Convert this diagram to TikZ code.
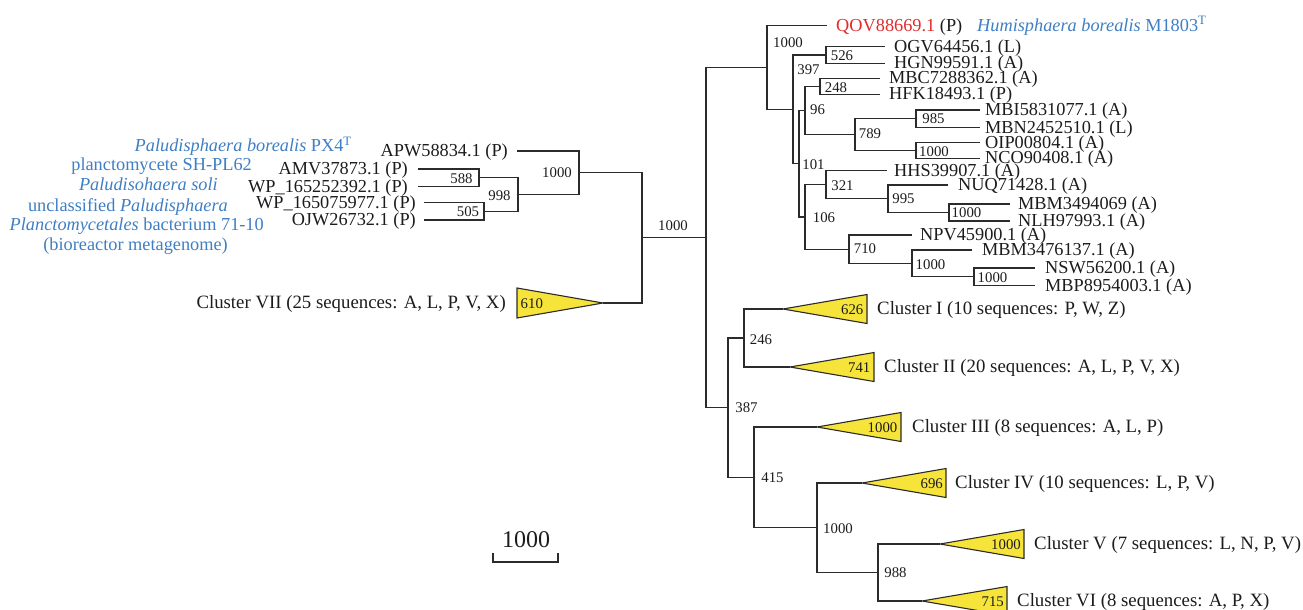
\documentclass[tikz,border=0pt]{standalone}
\usepackage{fontspec}
\setmainfont{Liberation Serif}
\definecolor{linec}{HTML}{2B2B2B}
\definecolor{textc}{HTML}{1C1C1C}
\definecolor{tyel}{HTML}{F7E43A}
\definecolor{sblue}{HTML}{3F7EC3}
\definecolor{sred}{HTML}{E32B2B}
\begin{document}
\begin{tikzpicture}[x=1pt,y=-1pt,
  br/.style={draw=linec,line width=1.3pt},
  bs/.style={font=\fontsize{14.8}{15}\selectfont,inner sep=0pt,text=textc},
  lf/.style={font=\fontsize{18.3}{20}\selectfont,anchor=base west,inner sep=0pt,yshift=-5.5pt,text=textc},
  lfr/.style={lf,anchor=base east},
  cl/.style={lf,font=\fontsize{18.8}{20}\selectfont},
  clr/.style={cl,anchor=base east},
  blu/.style={font=\fontsize{18.3}{20}\selectfont,anchor=base east,inner sep=0pt,text=sblue},
  tri/.style={draw=linec,line width=1.1pt,fill=tyel,line join=miter}]
\useasboundingbox (0,0) rectangle (1303,610);
% ---------- internal nodes (right, top) ----------
\coordinate (rootR) at (706,237.6);
\coordinate (rootL) at (642,237.6);
\coordinate (nA) at (767,67.5);
\coordinate (nB) at (793,109.4);
\coordinate (n526) at (826,55);
\coordinate (n101) at (799,163.7);
\coordinate (n96) at (805,110.5);
\coordinate (n248) at (820,86.3);
\coordinate (n789) at (855,134.7);
\coordinate (n985) at (916,118.8);
\coordinate (nOI) at (916,150.5);
\coordinate (n106) at (805,217);
\coordinate (n321) at (826,184.7);
\coordinate (n995) at (888,198.7);
\coordinate (nMN) at (949,212.5);
\coordinate (n710) at (849,249.2);
\coordinate (nMM) at (912,263.4);
\coordinate (nNM) at (974,276.8);
% leaf ends
\coordinate (lQOV) at (827,25.7);
\coordinate (lOGV) at (885,46.7);
\coordinate (lHGN) at (885,63.3);
\coordinate (lMBC) at (880,78.3);
\coordinate (lHFK) at (880,94.3);
\coordinate (lMBI) at (980,110);
\coordinate (lMBN) at (980,127.7);
\coordinate (lOIP) at (980,142.7);
\coordinate (lNCO) at (980,158.3);
\coordinate (lHHS) at (887,170.7);
\coordinate (lNUQ) at (948,185);
\coordinate (lMBMa) at (1010,204);
\coordinate (lNLH) at (1010,221);
\coordinate (lNPV) at (912,235);
\coordinate (lMBMb) at (972,250);
\coordinate (lNSW) at (1035,268);
\coordinate (lMBP) at (1035,285.7);
% ---------- right, bottom ----------
\coordinate (n387) at (728,407.7);
\coordinate (n246) at (744,338);
\coordinate (n415) at (754,477.4);
\coordinate (nE) at (817,527.7);
\coordinate (n988) at (878,572.5);
\coordinate (tI) at (783,309);
\coordinate (tII) at (790,367);
\coordinate (tIII) at (817,427);
\coordinate (tIV) at (862,483);
\coordinate (tV) at (940,544);
\coordinate (tVI) at (922,601);
% ---------- left ----------
\coordinate (nL) at (579,172.8);
\coordinate (n998) at (518,194.6);
\coordinate (n588) at (479,177.8);
\coordinate (n505) at (484,211.4);
\coordinate (lAPW) at (517,151);
\coordinate (lAMV) at (418,169);
\coordinate (lWP1) at (418,186.7);
\coordinate (lWP2) at (424,202.7);
\coordinate (lOJW) at (424,220);
\coordinate (tVII) at (603,303);
% ---------- branches ----------
\draw[br] (rootL) -- (rootR);
\draw[br] (rootR) |- (nA);
\draw[br] (rootR) |- (n387);
\draw[br] (nA) |- (lQOV);
\draw[br] (nA) |- (nB);
\draw[br] (nB) |- (n526);
\draw[br] (nB) |- (n101);
\draw[br] (n526) |- (lOGV);
\draw[br] (n526) |- (lHGN);
\draw[br] (n101) |- (n96);
\draw[br] (n101) |- (n106);
\draw[br] (n96) |- (n248);
\draw[br] (n96) |- (n789);
\draw[br] (n248) |- (lMBC);
\draw[br] (n248) |- (lHFK);
\draw[br] (n789) |- (n985);
\draw[br] (n789) |- (nOI);
\draw[br] (n985) |- (lMBI);
\draw[br] (n985) |- (lMBN);
\draw[br] (nOI) |- (lOIP);
\draw[br] (nOI) |- (lNCO);
\draw[br] (n106) |- (n321);
\draw[br] (n106) |- (n710);
\draw[br] (n321) |- (lHHS);
\draw[br] (n321) |- (n995);
\draw[br] (n995) |- (lNUQ);
\draw[br] (n995) |- (nMN);
\draw[br] (nMN) |- (lMBMa);
\draw[br] (nMN) |- (lNLH);
\draw[br] (n710) |- (lNPV);
\draw[br] (n710) |- (nMM);
\draw[br] (nMM) |- (lMBMb);
\draw[br] (nMM) |- (nNM);
\draw[br] (nNM) |- (lNSW);
\draw[br] (nNM) |- (lMBP);
\draw[br] (n387) |- (n246);
\draw[br] (n387) |- (n415);
\draw[br] (n246) |- (tI);
\draw[br] (n246) |- (tII);
\draw[br] (n415) |- (tIII);
\draw[br] (n415) |- (nE);
\draw[br] (nE) |- (tIV);
\draw[br] (nE) |- (n988);
\draw[br] (n988) |- (tV);
\draw[br] (n988) |- (tVI);
\draw[br] (rootL) |- (nL);
\draw[br] (rootL) |- (tVII);
\draw[br] (nL) |- (lAPW);
\draw[br] (nL) |- (n998);
\draw[br] (n998) |- (n588);
\draw[br] (n998) |- (n505);
\draw[br] (n588) |- (lAMV);
\draw[br] (n588) |- (lWP1);
\draw[br] (n505) |- (lWP2);
\draw[br] (n505) |- (lOJW);
% ---------- collapsed clusters ----------
\draw[tri] (tI) -- ++(84,-14.5) -- ++(0,29) -- cycle;
\draw[tri] (tII) -- ++(84,-14.5) -- ++(0,29) -- cycle;
\draw[tri] (tIII) -- ++(84,-14.5) -- ++(0,29) -- cycle;
\draw[tri] (tIV) -- ++(84,-14.5) -- ++(0,29) -- cycle;
\draw[tri] (tV) -- ++(84,-14.5) -- ++(0,29) -- cycle;
\draw[tri] (tVI) -- ++(85,-14.5) -- ++(0,29) -- cycle;
\draw[tri] (tVII) -- ++(-86,-15) -- ++(0,30) -- cycle;
\node[bs,anchor=east] (c626) at (863.5,310) {626};
\node[bs,anchor=east] (c741) at (870.5,368) {741};
\node[bs,anchor=east] (c1000a) at (897.5,428) {1000};
\node[bs,anchor=east] (c696) at (943,484) {696};
\node[bs,anchor=east] (c1000b) at (1021,545) {1000};
\node[bs,anchor=east] (c715) at (1004,602) {715};
\node[bs,anchor=west] (c610) at (520.5,304) {610};
\node[cl] (kI) at (877,309) {Cluster I (10 sequences: P, W, Z)};
\node[cl] (kII) at (884,367) {Cluster II (20 sequences: A, L, P, V, X)};
\node[cl] (kIII) at (912,427) {Cluster III (8 sequences: A, L, P)};
\node[cl] (kIV) at (955,483) {Cluster IV (10 sequences: L, P, V)};
\node[cl] (kV) at (1034,544) {Cluster V (7 sequences: L, N, P, V)};
\node[cl] (kVI) at (1017,601) {Cluster VI (8 sequences: A, P, X)};
\node[clr] (kVII) at (506,303) {Cluster VII (25 sequences: A, L, P, V, X)};
% ---------- bootstrap values ----------
\node[bs] (bA) at (788,43) {1000};
\node[bs] (bB) at (808.5,70) {397};
\node[bs] (b526) at (842,56) {526};
\node[bs] (b248) at (836,87.5) {248};
\node[bs] (b96) at (817.5,110) {96};
\node[bs] (b789) at (870,134) {789};
\node[bs] (b985) at (933.5,119) {985};
\node[bs] (bOI) at (934,152) {1000};
\node[bs] (b101) at (813.5,165) {101};
\node[bs] (b321) at (842.5,186) {321};
\node[bs] (b995) at (903.5,199) {995};
\node[bs] (bMN) at (966.5,212.5) {1000};
\node[bs] (b106) at (824,218) {106};
\node[bs] (b710) at (865,249) {710};
\node[bs] (bMM) at (930.5,265) {1000};
\node[bs] (bNM) at (992.5,278) {1000};
\node[bs] (broot) at (673,226) {1000};
\node[bs] (b246) at (761,340) {246};
\node[bs] (b387) at (746.5,408) {387};
\node[bs] (b415) at (772.5,477.5) {415};
\node[bs] (bE) at (838,529) {1000};
\node[bs] (b988) at (895.5,572.5) {988};
\node[bs] (bL) at (557,172.5) {1000};
\node[bs] (b998) at (499.5,196) {998};
\node[bs] (b588) at (461.5,179) {588};
\node[bs] (b505) at (468,212) {505};
% ---------- leaf labels ----------
\node[lf] (tQOV) at (836,25.7) {\textcolor{sred}{QOV88669.1} (P)};
\node[lf,text=sblue] (tHum) at (977,25.7) {\textit{Humisphaera borealis} M1803\textsuperscript{T}};
\node[lf] (tOGV) at (894,46.7) {OGV64456.1 (L)};
\node[lf] (tHGN) at (894,63.3) {HGN99591.1 (A)};
\node[lf] (tMBC) at (889,78.3) {MBC7288362.1 (A)};
\node[lf] (tHFK) at (889,94.3) {HFK18493.1 (P)};
\node[lf] (tMBI) at (985,110) {MBI5831077.1 (A)};
\node[lf] (tMBN) at (985,127.7) {MBN2452510.1 (L)};
\node[lf] (tOIP) at (985,142.7) {OIP00804.1 (A)};
\node[lf] (tNCO) at (985,158.3) {NCO90408.1 (A)};
\node[lf] (tHHS) at (894,170.7) {HHS39907.1 (A)};
\node[lf] (tNUQ) at (958,185) {NUQ71428.1 (A)};
\node[lf] (tMBMa) at (1018,204) {MBM3494069 (A)};
\node[lf] (tNLH) at (1018,221) {NLH97993.1 (A)};
\node[lf] (tNPV) at (920,235) {NPV45900.1 (A)};
\node[lf] (tMBMb) at (982,250) {MBM3476137.1 (A)};
\node[lf] (tNSW) at (1045,268) {NSW56200.1 (A)};
\node[lf] (tMBP) at (1045,285.7) {MBP8954003.1 (A)};
\node[lfr] (tAPW) at (508,151) {APW58834.1 (P)};
\node[lfr] (tAMV) at (408,169) {AMV37873.1 (P)};
\node[lfr] (tWP1) at (408,186.7) {WP\_165252392.1 (P)};
\node[lfr] (tWP2) at (416,202.7) {WP\_165075977.1 (P)};
\node[lfr] (tOJW) at (416,220) {OJW26732.1 (P)};
% ---------- blue taxon names ----------
\node[blu] (s1) at (352,151.7) {\textit{Paludisphaera borealis} PX4\textsuperscript{T}};
\node[blu] (s2) at (252,170.7) {planctomycete SH-PL62};
\node[blu] (s3) at (218,190) {\textit{Paludisohaera soli}};
\node[blu] (s4) at (228,211) {unclassified \textit{Paludisphaera}};
\node[blu] (s5) at (264,230) {\textit{Planctomycetales} bacterium 71-10};
\node[blu] (s6) at (228,250.7) {(bioreactor metagenome)};
% ---------- scale bar ----------
\coordinate (sb1) at (493,562);
\coordinate (sb2) at (558,562);
\draw[br,line width=1.2pt] ([yshift=9pt]sb1) -- (sb1) -- (sb2) -- ([yshift=9pt]sb2);
\node[font=\fontsize{24}{26}\selectfont,inner sep=0pt,text=textc] (sbl) at (526,540) {1000};
\end{tikzpicture}
\end{document}
